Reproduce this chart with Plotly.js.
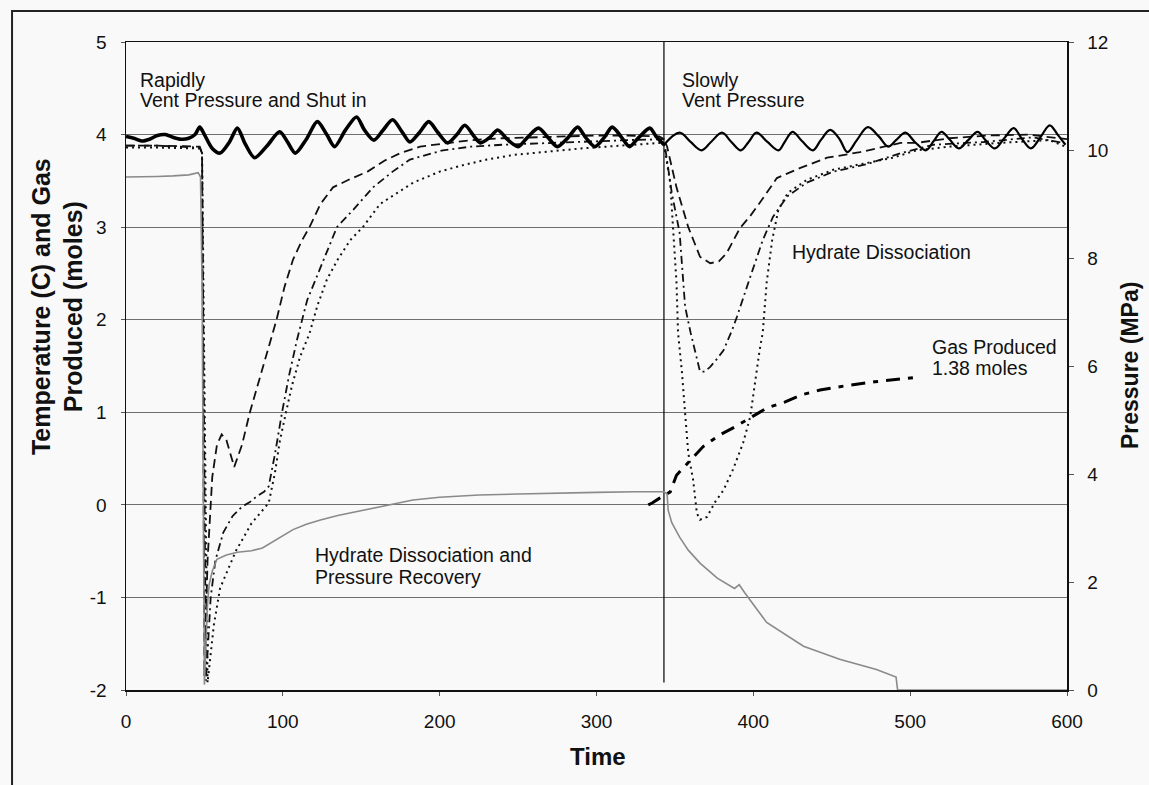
<!DOCTYPE html>
<html>
<head>
<meta charset="utf-8">
<script src="https://cdn.plot.ly/plotly-3.0.1.min.js"></script>
<style>
  html, body { margin: 0; padding: 0; background: #f9f9f9; }
  #chart { width: 1149px; height: 785px; }
</style>
</head>
<body>
<div id="chart"></div>
<script>
// ---- Bath temperature (thick solid), before second vent ----
const bathA_t = [0,5,10,15,20,25,30,35,40,44,47,50,55,60,66,71,76,82,90,98,103,108,115,122,128,133,140,147,152,158,164,170,176,181,187,193,199,205,211,216,222,226,232,237,243,250,256,263,269,275,282,288,293,299,305,310,316,321,327,334,338,343];
const bathA_T = [3.98,3.96,3.93,3.95,3.99,4.0,3.97,3.95,3.96,4.0,4.08,4.0,3.85,3.80,3.92,4.07,3.9,3.75,3.88,4.03,3.92,3.80,3.95,4.14,4.0,3.87,4.05,4.19,4.05,3.94,4.05,4.16,4.03,3.92,4.02,4.14,4.02,3.91,4.0,4.10,3.98,3.91,3.97,4.05,3.95,3.87,3.97,4.07,3.97,3.87,3.97,4.08,3.97,3.87,3.97,4.08,3.97,3.87,3.97,4.07,3.98,3.89];
// ---- Bath temperature (solid), after second vent ----
const bathB_t = [343,353,360,367,373,380,386,392,397,402,409,416,420,425,431,438,443,449,455,460,466,473,480,486,491,497,503,510,515,520,525,531,537,543,548,554,560,566,571,577,583,589,594,599];
const bathB_T = [3.89,4.02,3.92,3.83,3.92,4.02,3.92,3.83,3.92,4.02,3.92,3.83,3.92,4.03,3.93,3.83,3.94,4.05,3.95,3.81,3.94,4.08,3.98,3.87,3.94,4.02,3.92,3.83,3.93,4.03,3.95,3.85,3.94,4.03,3.94,3.85,3.96,4.07,3.96,3.85,3.97,4.10,4.0,3.89];
// ---- Thermocouple 1 (dashed) ----
const tc1_t = [0,20,47,48.5,50,52,55,58,61,64,69,74,79,85,90.5,96,101,106.5,112,117,124,132,143,154,165,175,187.5,205,220,240,260,280,300,320,340,343,345,351,358.5,366,372.5,378,383,391.5,398,404,415,430,447,468,494,504,525,550,575,600];
const tc1_T = [3.88,3.88,3.87,3.8,-1.85,-0.6,0.3,0.65,0.76,0.7,0.41,0.65,1.0,1.35,1.67,2.0,2.35,2.65,2.85,3.0,3.25,3.43,3.52,3.6,3.72,3.8,3.87,3.91,3.94,3.96,3.97,3.98,3.99,3.99,3.98,3.95,3.87,3.43,3.0,2.68,2.61,2.63,2.72,2.99,3.12,3.26,3.53,3.64,3.75,3.81,3.91,3.91,3.96,3.99,4.0,3.95];
// ---- Thermocouple 2 (dash-dot) ----
const tc2_t = [0,20,47,48.5,51,54,57,62,68,74,79,84,88,91,95,99.5,104,109,115.5,124,134.5,145,157.5,170,181,202,220,240,270,300,320,343,345.7,348,353,356.5,360,364,366,369,372.5,377,381,386.5,389.5,398,406,412.5,421.5,434,451,472.5,494,515,547,578,598];
const tc2_T = [3.88,3.88,3.86,3.8,-1.9,-1.0,-0.6,-0.3,-0.12,-0.02,0.03,0.1,0.14,0.2,0.55,1.0,1.4,1.78,2.21,2.57,3.0,3.19,3.43,3.6,3.73,3.83,3.87,3.89,3.91,3.93,3.94,3.95,3.65,3.37,2.94,2.14,1.86,1.57,1.44,1.44,1.49,1.58,1.67,1.89,2.03,2.46,2.86,3.11,3.33,3.48,3.60,3.68,3.80,3.89,3.92,3.97,3.91];
// ---- Thermocouple 3 (dotted) ----
const tc3_t = [0,20,47,48.5,52,56,60,65,70,75,80,86,91,95,98,102,106,111,117,122,128,135,143,151,162,183,200,215,230,247,270,290,315,340.5,343,347,349,351,352,354.5,356.5,358.5,361.6,364,366,370.5,375.6,381,387,393.5,398,401,404,406,408.5,412,416,422,434,451,472.5,489,504,525.5,557,589,599];
const tc3_T = [3.86,3.86,3.85,3.8,-1.92,-1.3,-0.9,-0.7,-0.5,-0.35,-0.2,-0.08,0.02,0.35,0.68,1.0,1.3,1.6,1.85,2.15,2.43,2.65,2.86,3.0,3.25,3.48,3.6,3.67,3.73,3.78,3.82,3.85,3.88,3.91,3.9,3.48,2.94,2.40,1.86,1.43,0.99,0.56,0.27,-0.09,-0.16,-0.13,0.03,0.16,0.38,0.67,0.95,1.32,1.67,1.86,2.40,2.86,3.19,3.37,3.51,3.62,3.69,3.75,3.83,3.87,3.91,3.94,3.87];
// ---- Pressure (MPa, right axis) ----
const pres_t = [0,10,20,30,40,46,47.5,48.5,49,49.5,50,51,52,53,55,58,64,71,80,87,96,106.5,115,124,135,145,155,166,183,200,225,250,275,300,325,343,345,345.7,348,353,358.5,366,377,385,388,391,394.5,408.5,432,455,478.5,491,492,600];
const pres_P = [9.5,9.5,9.51,9.52,9.54,9.58,9.5,7.5,5.0,2.5,0.1,0.9,1.6,1.95,2.2,2.42,2.5,2.55,2.58,2.63,2.78,2.97,3.07,3.15,3.23,3.29,3.36,3.43,3.52,3.57,3.61,3.63,3.65,3.66,3.67,3.67,3.63,3.33,3.1,2.83,2.59,2.35,2.07,1.92,1.88,1.95,1.8,1.25,0.81,0.57,0.38,0.24,0.0,0.0];
// ---- Gas produced (moles) ----
const gas_t = [333,335.5,340,347,351,360,368,379,388,399,409,420,431,442.5,460,477.5,490,505];
const gas_n = [0.0,0.02,0.07,0.14,0.32,0.49,0.63,0.76,0.84,0.95,1.05,1.11,1.19,1.24,1.29,1.33,1.35,1.38];
// ---- Second vent marker ----
const ventTimes = [343];
const ventSpan = [5, -1.92];
// ---- Ticks ----
const xTicks = [0,100,200,300,400,500,600];
const yTicks = [-2,-1,0,1,2,3,4,5];
const yTickLabels = ['-2','-1','0','1','2','3','4','5'];
const y2Ticks = [0,2,4,6,8,10,12];

const FONT = '"Liberation Sans", Arial, Helvetica, sans-serif';

const traces = [
  {x: pres_t, y: pres_P, yaxis: 'y2', mode: 'lines', line: {color: '#8a8a8a', width: 1.6}},
  {x: tc3_t, y: tc3_T, mode: 'lines', line: {color: '#111', width: 2, dash: '2px,4px'}},
  {x: tc2_t, y: tc2_T, mode: 'lines', line: {color: '#111', width: 1.8, dash: '8px,4px,2px,4px'}},
  {x: tc1_t, y: tc1_T, mode: 'lines', line: {color: '#111', width: 1.8, dash: '9px,5px'}},
  {x: bathA_t, y: bathA_T, mode: 'lines', line: {color: '#000', width: 3.6, shape: 'spline', smoothing: 0.8}},
  {x: bathB_t, y: bathB_T, mode: 'lines', line: {color: '#000', width: 2.2, shape: 'spline', smoothing: 1}},
  {x: gas_t, y: gas_n, mode: 'lines', line: {color: '#000', width: 3, dash: '14px,8px,5px,8px'}},
  {x: [ventTimes[0], ventTimes[0]], y: ventSpan, mode: 'lines', line: {color: '#000', width: 1.2}}
];

function note(x, y, text) {
  return {x: x, y: y, xref: 'x', yref: 'y', text: text, showarrow: false,
          xanchor: 'left', yanchor: 'middle', font: {family: FONT, size: 19.5, color: '#111'}};
}

const layout = {
  width: 1149, height: 785,
  margin: {l: 126, r: 82, t: 42, b: 95},
  paper_bgcolor: '#f9f9f9', plot_bgcolor: '#f9f9f9',
  showlegend: false,
  font: {family: FONT, color: '#111'},
  xaxis: {
    range: [0, 600], tickvals: xTicks, ticks: 'outside', ticklen: 4, tickcolor: '#555',
    showline: true, linecolor: '#111', linewidth: 1.5, mirror: true,
    showgrid: false, zeroline: false, ticklabelstandoff: 10,
    tickfont: {family: FONT, size: 19, color: '#111'}
  },
  yaxis: {
    range: [-2, 5], tickvals: yTicks, ticktext: yTickLabels, ticks: 'outside', ticklen: 4, tickcolor: '#555',
    showline: true, linecolor: '#111', linewidth: 1.5,
    showgrid: true, gridcolor: '#6f6f6f', gridwidth: 1, zeroline: false,
    ticklabelstandoff: 10,
    tickfont: {family: FONT, size: 19, color: '#111'}
  },
  yaxis2: {
    range: [0, 12], tickvals: y2Ticks, overlaying: 'y', side: 'right',
    ticks: 'outside', ticklen: 5, tickcolor: '#555',
    showline: true, linecolor: '#111', linewidth: 1.5,
    showgrid: false, zeroline: false, ticklabelstandoff: 10,
    tickfont: {family: FONT, size: 19, color: '#111'}
  },
  shapes: [
    {type: 'rect', xref: 'paper', yref: 'paper', x0: -0.1211, x1: 1.3, y0: -0.4, y1: 1.0478,
     line: {color: '#222', width: 2}, fillcolor: 'rgba(0,0,0,0)', layer: 'below'}
  ],
  annotations: [
    note(7.6, 4.59, 'Rapidly'),
    note(7.6, 4.37, 'Vent Pressure and Shut in'),
    note(353.3, 4.59, 'Slowly'),
    note(353.3, 4.37, 'Vent Pressure'),
    note(423.5, 2.73, 'Hydrate Dissociation'),
    note(512.7, 1.71, 'Gas Produced'),
    note(512.7, 1.48, '1.38 moles'),
    note(119, -0.54, 'Hydrate Dissociation and'),
    note(119, -0.78, 'Pressure Recovery'),
    {xref: 'paper', yref: 'paper', x: -0.0733, y: 0.591, textangle: -90, showarrow: false,
     text: '<b>Temperature (C) and Gas<br>Produced (moles)</b>',
     xanchor: 'center', yanchor: 'middle', font: {family: FONT, size: 25, color: '#111'}},
    {xref: 'paper', yref: 'paper', x: 1.067, y: 0.5, textangle: -90, showarrow: false,
     text: '<b>Pressure (MPa)</b>',
     xanchor: 'center', yanchor: 'middle', font: {family: FONT, size: 23, color: '#111'}},
    {xref: 'paper', yref: 'paper', x: 0.502, y: -0.102, showarrow: false,
     text: '<b>Time</b>',
     xanchor: 'center', yanchor: 'middle', font: {family: FONT, size: 24, color: '#111'}}
  ]
};

Plotly.newPlot('chart', traces, layout, {displayModeBar: false, staticPlot: true});
</script>
</body>
</html>
